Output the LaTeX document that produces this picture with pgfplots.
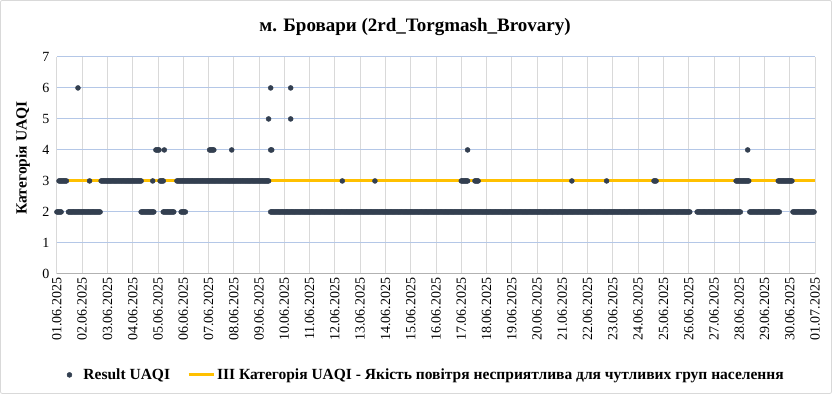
\documentclass[border=0pt]{standalone}
\usepackage{pgfplots}
\pgfplotsset{compat=1.18}
\usepackage{fontspec}
\setmainfont{Liberation Serif}
\definecolor{dotc}{HTML}{333F50}
\definecolor{lineo}{HTML}{FFC000}
\definecolor{vgrid}{HTML}{D9D9D9}
\definecolor{hgrid}{HTML}{B4C7E7}
\definecolor{framec}{HTML}{D9D9D9}
\pgfplotsset{orangeleg/.style={legend image code/.code={\draw[#1] (0pt,0pt) -- (25pt,0pt);}},
 dotleg/.style={legend image code/.code={\path[draw=none,fill=none] (-3pt,0pt) -- (12pt,0pt); \fill[dotc] (0pt,0pt) circle (2.5pt);}}}
\begin{document}
\begin{tikzpicture}[x=1pt,y=1pt]
\draw[framec, line width=0.8pt, rounded corners=2pt] (0.5,0.5) rectangle (831.5,393.5);
\node[font=\bfseries\fontsize{19}{19}\selectfont] at (415,367) {м. Бровари (2rd\_Torgmash\_Brovary)};
\node[rotate=90, font=\bfseries\fontsize{15.5}{15.5}\selectfont] at (23,236) {Категорія UAQI};
\begin{axis}[
 at={(57pt,120pt)}, anchor=south west,
 scale only axis, width=758pt, height=217pt,
 xmin=0, xmax=720, ymin=0, ymax=7,
 xtick={0,24,...,720},
 xticklabels={01.06.2025,02.06.2025,03.06.2025,04.06.2025,05.06.2025,06.06.2025,07.06.2025,08.06.2025,09.06.2025,10.06.2025,11.06.2025,12.06.2025,13.06.2025,14.06.2025,15.06.2025,16.06.2025,17.06.2025,18.06.2025,19.06.2025,20.06.2025,21.06.2025,22.06.2025,23.06.2025,24.06.2025,25.06.2025,26.06.2025,27.06.2025,28.06.2025,29.06.2025,30.06.2025,01.07.2025},
 ytick={0,1,...,7},
 xmajorgrids, ymajorgrids,
 x grid style={vgrid, line width=1pt},
 y grid style={hgrid, line width=1pt},
 axis x line*=bottom, axis y line*=left,
 x axis line style={color=black!30, line width=1pt, -},
 y axis line style={draw=none},
 major tick length=0pt,
 xticklabel style={rotate=90, anchor=east, font=\fontsize{14}{14}\selectfont},
 yticklabel style={font=\fontsize{14}{14}\selectfont, xshift=-4pt},
 /pgf/number format/assume math mode=true,
 legend style={at={(0.487,-0.465)}, anchor=center, draw=none, fill=none, font=\bfseries\fontsize{15.5}{15.5}\selectfont, legend columns=2, /tikz/every even column/.append style={column sep=15pt}},
 legend cell align=left,
 clip=false,
]
\addlegendimage{dotleg}
\addlegendentry{Result UAQI}
\addlegendimage{lineo, line width=3pt, orangeleg}
\addlegendentry{III Категорія UAQI - Якість повітря несприятлива для чутливих груп населення}
\addplot[forget plot, lineo, line width=3pt] coordinates {(0,3) (720,3)};
% value 2
\addplot[forget plot, only marks, mark=*, mark size=2.5pt, dotc] coordinates {
(0,2)(1,2)(2,2)(3,2)(4,2)
(11,2)(12,2)(13,2)(14,2)(15,2)(16,2)(17,2)(18,2)(19,2)(20,2)(21,2)(22,2)(23,2)(24,2)(25,2)(26,2)(27,2)(28,2)(29,2)(30,2)
(31,2)(32,2)(33,2)(34,2)(35,2)(36,2)(37,2)(38,2)(39,2)(40,2)(41,2)
(80,2)(81,2)(82,2)(83,2)(84,2)(85,2)(86,2)(87,2)(88,2)(89,2)(90,2)(91,2)(92,2)
(101,2)(102,2)(103,2)(104,2)(105,2)(106,2)(107,2)(108,2)(109,2)(110,2)(111,2)
(118,2)(119,2)(120,2)(121,2)(122,2)
(203,2)(204,2)(205,2)(206,2)(207,2)(208,2)(209,2)(210,2)(211,2)(212,2)(213,2)(214,2)(215,2)(216,2)(217,2)(218,2)(219,2)
(220,2)(221,2)(222,2)(223,2)(224,2)(225,2)(226,2)(227,2)(228,2)(229,2)(230,2)(231,2)(232,2)(233,2)(234,2)(235,2)(236,2)(237,2)(238,2)(239,2)
(240,2)(241,2)(242,2)(243,2)(244,2)(245,2)(246,2)(247,2)(248,2)(249,2)(250,2)(251,2)(252,2)(253,2)(254,2)(255,2)(256,2)(257,2)(258,2)(259,2)
(260,2)(261,2)(262,2)(263,2)(264,2)(265,2)(266,2)(267,2)(268,2)(269,2)(270,2)(271,2)(272,2)(273,2)(274,2)(275,2)(276,2)(277,2)(278,2)(279,2)
(280,2)(281,2)(282,2)(283,2)(284,2)(285,2)(286,2)(287,2)(288,2)(289,2)(290,2)(291,2)(292,2)(293,2)(294,2)(295,2)(296,2)(297,2)(298,2)(299,2)
(300,2)(301,2)(302,2)(303,2)(304,2)(305,2)(306,2)(307,2)(308,2)(309,2)(310,2)(311,2)(312,2)(313,2)(314,2)(315,2)(316,2)(317,2)(318,2)(319,2)
(320,2)(321,2)(322,2)(323,2)(324,2)(325,2)(326,2)(327,2)(328,2)(329,2)(330,2)(331,2)(332,2)(333,2)(334,2)(335,2)(336,2)(337,2)(338,2)(339,2)
(340,2)(341,2)(342,2)(343,2)(344,2)(345,2)(346,2)(347,2)(348,2)(349,2)(350,2)(351,2)(352,2)(353,2)(354,2)(355,2)(356,2)(357,2)(358,2)(359,2)
(360,2)(361,2)(362,2)(363,2)(364,2)(365,2)(366,2)(367,2)(368,2)(369,2)(370,2)(371,2)(372,2)(373,2)(374,2)(375,2)(376,2)(377,2)(378,2)(379,2)
(380,2)(381,2)(382,2)(383,2)(384,2)(385,2)(386,2)(387,2)(388,2)(389,2)(390,2)(391,2)(392,2)(393,2)(394,2)(395,2)(396,2)(397,2)(398,2)(399,2)
(400,2)(401,2)(402,2)(403,2)(404,2)(405,2)(406,2)(407,2)(408,2)(409,2)(410,2)(411,2)(412,2)(413,2)(414,2)(415,2)(416,2)(417,2)(418,2)(419,2)
(420,2)(421,2)(422,2)(423,2)(424,2)(425,2)(426,2)(427,2)(428,2)(429,2)(430,2)(431,2)(432,2)(433,2)(434,2)(435,2)(436,2)(437,2)(438,2)(439,2)
(440,2)(441,2)(442,2)(443,2)(444,2)(445,2)(446,2)(447,2)(448,2)(449,2)(450,2)(451,2)(452,2)(453,2)(454,2)(455,2)(456,2)(457,2)(458,2)(459,2)
(460,2)(461,2)(462,2)(463,2)(464,2)(465,2)(466,2)(467,2)(468,2)(469,2)(470,2)(471,2)(472,2)(473,2)(474,2)(475,2)(476,2)(477,2)(478,2)(479,2)
(480,2)(481,2)(482,2)(483,2)(484,2)(485,2)(486,2)(487,2)(488,2)(489,2)(490,2)(491,2)(492,2)(493,2)(494,2)(495,2)(496,2)(497,2)(498,2)(499,2)
(500,2)(501,2)(502,2)(503,2)(504,2)(505,2)(506,2)(507,2)(508,2)(509,2)(510,2)(511,2)(512,2)(513,2)(514,2)(515,2)(516,2)(517,2)(518,2)(519,2)
(520,2)(521,2)(522,2)(523,2)(524,2)(525,2)(526,2)(527,2)(528,2)(529,2)(530,2)(531,2)(532,2)(533,2)(534,2)(535,2)(536,2)(537,2)(538,2)(539,2)
(540,2)(541,2)(542,2)(543,2)(544,2)(545,2)(546,2)(547,2)(548,2)(549,2)(550,2)(551,2)(552,2)(553,2)(554,2)(555,2)(556,2)(557,2)(558,2)(559,2)
(560,2)(561,2)(562,2)(563,2)(564,2)(565,2)(566,2)(567,2)(568,2)(569,2)(570,2)(571,2)(572,2)(573,2)(574,2)(575,2)(576,2)(577,2)(578,2)(579,2)
(580,2)(581,2)(582,2)(583,2)(584,2)(585,2)(586,2)(587,2)(588,2)(589,2)(590,2)(591,2)(592,2)(593,2)(594,2)(595,2)(596,2)(597,2)(598,2)(599,2)
(600,2)(601,2)
(608,2)(609,2)(610,2)(611,2)(612,2)(613,2)(614,2)(615,2)(616,2)(617,2)(618,2)(619,2)
(620,2)(621,2)(622,2)(623,2)(624,2)(625,2)(626,2)(627,2)(628,2)(629,2)(630,2)(631,2)(632,2)(633,2)(634,2)(635,2)(636,2)(637,2)(638,2)(639,2)
(640,2)(641,2)(642,2)(643,2)(644,2)(645,2)(646,2)(647,2)(648,2)(649,2)
(658,2)(659,2)(660,2)(661,2)(662,2)(663,2)(664,2)(665,2)(666,2)(667,2)(668,2)(669,2)(670,2)(671,2)(672,2)(673,2)(674,2)(675,2)(676,2)(677,2)
(678,2)(679,2)(680,2)(681,2)(682,2)(683,2)(684,2)(685,2)(686,2)
(699,2)(700,2)(701,2)(702,2)(703,2)(704,2)(705,2)(706,2)(707,2)(708,2)(709,2)(710,2)(711,2)(712,2)(713,2)(714,2)(715,2)(716,2)(717,2)(718,2)(719,2)
};
% value 3
\addplot[forget plot, only marks, mark=*, mark size=2.5pt, dotc] coordinates {
(2,3)(3,3)(4,3)(5,3)(6,3)(7,3)(8,3)(9,3)
(31,3)
(42,3)(43,3)(44,3)(45,3)(46,3)(47,3)(48,3)(49,3)(50,3)(51,3)(52,3)(53,3)(54,3)(55,3)(56,3)(57,3)(58,3)(59,3)(60,3)(61,3)
(62,3)(63,3)(64,3)(65,3)(66,3)(67,3)(68,3)(69,3)(70,3)(71,3)(72,3)(73,3)(74,3)(75,3)(76,3)(77,3)(78,3)(79,3)(80,3)
(91,3)
(98,3)(99,3)(100,3)(101,3)
(114,3)(115,3)(116,3)(117,3)(118,3)(119,3)(120,3)(121,3)(122,3)(123,3)(124,3)(125,3)(126,3)(127,3)(128,3)(129,3)
(130,3)(131,3)(132,3)(133,3)(134,3)(135,3)(136,3)(137,3)(138,3)(139,3)(140,3)(141,3)(142,3)(143,3)(144,3)(145,3)(146,3)(147,3)(148,3)(149,3)
(150,3)(151,3)(152,3)(153,3)(154,3)(155,3)(156,3)(157,3)(158,3)(159,3)(160,3)(161,3)(162,3)(163,3)(164,3)(165,3)(166,3)(167,3)(168,3)(169,3)
(170,3)(171,3)(172,3)(173,3)(174,3)(175,3)(176,3)(177,3)(178,3)(179,3)(180,3)(181,3)(182,3)(183,3)(184,3)(185,3)(186,3)(187,3)(188,3)(189,3)
(190,3)(191,3)(192,3)(193,3)(194,3)(195,3)(196,3)(197,3)(198,3)(199,3)(200,3)(201,3)
(271,3)(302,3)
(384,3)(385,3)(386,3)(387,3)(388,3)(389,3)(390,3)
(397,3)(398,3)(399,3)(400,3)
(489,3)(522,3)
(567,3)(568,3)(569,3)
(645,3)(646,3)(647,3)(648,3)(649,3)(650,3)(651,3)(652,3)(653,3)(654,3)(655,3)(656,3)(657,3)
(685,3)(686,3)(687,3)(688,3)(689,3)(690,3)(691,3)(692,3)(693,3)(694,3)(695,3)(696,3)(697,3)(698,3)
};
% values 4, 5, 6
\addplot[forget plot, only marks, mark=*, mark size=2.5pt, dotc] coordinates {
(94,4)(95,4)(96,4)(97,4)(102,4)
(145,4)(146,4)(147,4)(148,4)(149,4)(166,4)
(203,4)(204,4)(390,4)(656,4)
(201,5)(222,5)
(20,6)(203,6)(222,6)
};
\end{axis}
\end{tikzpicture}
\end{document}
